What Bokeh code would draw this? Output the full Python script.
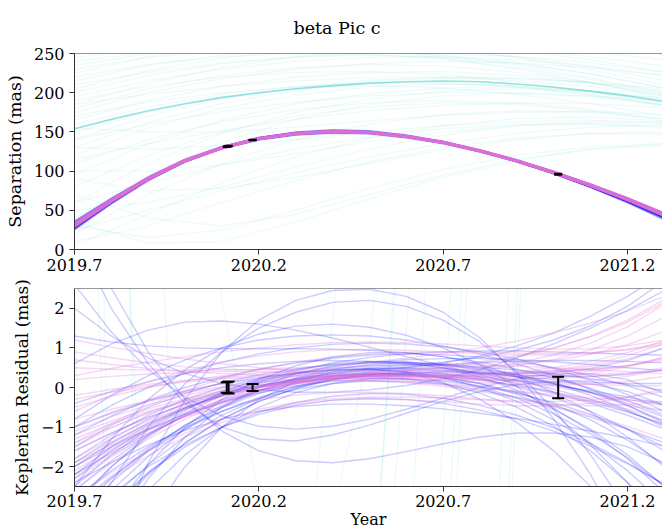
import numpy as np
from bokeh.plotting import figure
from bokeh.layouts import column
from bokeh.models import Range1d, FixedTicker, Span, Title
from bokeh.embed import file_html
from bokeh.resources import INLINE

# ---------------- data ----------------
YEARS = [2019.7, 2019.8, 2019.9, 2020.0, 2020.1, 2020.2, 2020.3, 2020.4, 2020.5,
         2020.6, 2020.7, 2020.8, 2020.9, 2021.0, 2021.1, 2021.2, 2021.3]
YEARS_CYAN = [2019.7, 2019.9, 2020.1, 2020.3, 2020.5, 2020.7, 2020.9, 2021.1, 2021.3]

# Keplerian reference separation (mas) on YEARS
REF_SEP = [32.0, 63.0, 91.0, 113.5, 129.8, 141.2, 147.6, 150.2, 149.0,
           143.8, 136.2, 125.5, 112.8, 98.0, 81.5, 63.5, 43.5]

# median of the wide (cyan) orbit family on YEARS
CYAN_MEDIAN = [154, 166, 177, 186, 194, 200, 205, 209, 212, 214, 215, 214, 211, 207, 202, 196, 189]

# wide (cyan) orbit family separations on YEARS_CYAN
CYAN_SEP = [
    [180, 205, 222, 232, 236, 234, 226, 213, 196],
    [200, 222, 237, 245, 248, 245, 237, 224, 206],
    [215, 235, 248, 255, 257, 254, 246, 233, 216],
    [165, 190, 208, 220, 226, 227, 222, 212, 198],
    [190, 208, 220, 226, 227, 223, 214, 201, 184],
    [230, 245, 253, 256, 254, 248, 238, 224, 206],
    [175, 200, 218, 230, 237, 240, 238, 232, 222],
    [205, 228, 244, 254, 259, 259, 255, 246, 234],
    [160, 182, 198, 208, 213, 213, 208, 198, 184],
    [220, 236, 246, 250, 249, 243, 232, 217, 198],
    [185, 212, 232, 246, 255, 259, 258, 252, 242],
    [240, 252, 258, 259, 255, 247, 235, 219, 200],
    [140, 170, 192, 207, 216, 219, 216, 208, 196],
    [120, 155, 180, 197, 207, 211, 209, 201, 188],
    [150, 175, 193, 205, 211, 212, 207, 197, 183],
    [110, 140, 163, 178, 187, 190, 187, 179, 166],
    [130, 162, 186, 203, 214, 219, 219, 213, 202],
    [95, 135, 165, 186, 199, 206, 207, 202, 192],
    [60, 110, 148, 175, 192, 202, 205, 202, 193],
    [40, 95, 137, 166, 185, 196, 199, 195, 184],
    [20, 70, 110, 140, 160, 172, 177, 175, 167],
    [80, 120, 150, 170, 182, 187, 185, 177, 164],
    [5, 45, 85, 118, 142, 158, 167, 169, 164],
    [50, 60, 80, 105, 128, 146, 158, 163, 161],
    [30, 15, 25, 50, 78, 102, 120, 131, 134],
    [70, 40, 30, 45, 70, 95, 115, 128, 132],
    [100, 100, 108, 122, 138, 150, 158, 160, 155],
    [10, 30, 60, 88, 112, 130, 142, 148, 147],
    [130, 128, 132, 140, 150, 158, 163, 165, 162],
    [60, 85, 108, 128, 143, 154, 160, 161, 157],
    [25, 50, 75, 98, 118, 135, 148, 156, 159],
    [35, 8, 10, 35, 65, 92, 113, 128, 136],
    [90, 75, 78, 92, 110, 127, 140, 148, 150],
    [155, 150, 150, 156, 164, 171, 175, 176, 172],
    [115, 135, 152, 166, 177, 184, 187, 186, 181],
    [170, 188, 200, 207, 209, 206, 198, 186, 170],
    [245, 258, 262, 260, 254, 244, 230, 213, 193],
    [195, 215, 230, 240, 245, 246, 242, 234, 222],
    [225, 246, 260, 268, 272, 272, 268, 260, 249],
    [140, 160, 176, 188, 196, 200, 200, 196, 188],
    [210, 226, 238, 246, 250, 250, 246, 238, 226],
    [235, 250, 260, 265, 266, 262, 254, 242, 226],
    [185, 198, 208, 215, 219, 220, 218, 213, 205],
    [250, 262, 268, 269, 265, 257, 245, 229, 210],
]

# residuals (mas) of the blue orbit family on YEARS
BLUE_RESID = [
    [-3.2, -2.3, -1.55, -0.95, -0.5, -0.15, 0.1, 0.28, 0.38, 0.4, 0.35, 0.22, 0.02, -0.25, -0.6, -1.05, -1.6],
    [-2.6, -1.85, -1.2, -0.7, -0.3, 0.0, 0.22, 0.38, 0.47, 0.5, 0.48, 0.4, 0.27, 0.1, -0.12, -0.4, -0.75],
    [-4.2, -3.1, -2.15, -1.4, -0.8, -0.35, -0.02, 0.2, 0.32, 0.34, 0.27, 0.1, -0.17, -0.55, -1.05, -1.7, -2.5],
    [-1.9, -1.3, -0.8, -0.4, -0.08, 0.17, 0.35, 0.48, 0.55, 0.58, 0.57, 0.52, 0.44, 0.34, 0.22, 0.08, -0.08],
    [-2.3, -1.6, -1.0, -0.52, -0.15, 0.13, 0.35, 0.52, 0.63, 0.7, 0.73, 0.73, 0.7, 0.65, 0.58, 0.5, 0.42],
    [-3.0, -2.25, -1.6, -1.05, -0.6, -0.25, 0.02, 0.2, 0.3, 0.32, 0.25, 0.1, -0.12, -0.42, -0.82, -1.33, -1.95],
    [-1.2, -0.72, -0.32, 0.0, 0.26, 0.46, 0.62, 0.74, 0.82, 0.85, 0.83, 0.77, 0.66, 0.5, 0.3, 0.05, -0.25],
    [-5.2, -3.8, -2.6, -1.7, -1.0, -0.5, -0.13, 0.1, 0.22, 0.22, 0.1, -0.14, -0.5, -0.98, -1.6, -2.4, -3.3],
    [4.6, 2.5, 0.9, -0.3, -1.1, -1.6, -1.85, -1.9, -1.8, -1.62, -1.42, -1.25, -1.15, -1.15, -1.25, -1.5, -1.9],
    [0.6, 1.1, 1.45, 1.65, 1.68, 1.6, 1.45, 1.25, 1.02, 0.78, 0.55, 0.32, 0.1, -0.12, -0.36, -0.62, -0.92],
    [-6.5, -4.0, -1.9, -0.3, 0.9, 1.7, 2.2, 2.45, 2.48, 2.3, 1.9, 1.25, 0.35, -0.8, -2.2, -3.9, -5.9],
    [-1.0, -0.65, -0.35, -0.1, 0.1, 0.25, 0.36, 0.44, 0.5, 0.56, 0.64, 0.76, 0.94, 1.2, 1.56, 2.05, 2.7],
    [-3.6, -2.6, -1.75, -1.05, -0.5, -0.08, 0.23, 0.45, 0.58, 0.63, 0.6, 0.5, 0.33, 0.1, -0.2, -0.57, -1.0],
    [-2.0, -1.5, -1.05, -0.68, -0.38, -0.14, 0.04, 0.16, 0.22, 0.22, 0.16, 0.04, -0.14, -0.38, -0.68, -1.05, -1.5],
    [2.6, 1.4, 0.45, -0.25, -0.72, -0.98, -1.05, -0.98, -0.8, -0.55, -0.27, 0.0, 0.22, 0.35, 0.35, 0.2, -0.15],
    [-4.8, -3.2, -1.95, -1.0, -0.3, 0.2, 0.55, 0.77, 0.88, 0.88, 0.78, 0.58, 0.28, -0.12, -0.62, -1.25, -2.0],
    [-2.8, -2.1, -1.5, -1.0, -0.6, -0.28, -0.05, 0.1, 0.17, 0.16, 0.08, -0.06, -0.25, -0.48, -0.75, -1.05, -1.4],
    [-1.5, -0.95, -0.5, -0.15, 0.12, 0.32, 0.47, 0.57, 0.62, 0.62, 0.57, 0.47, 0.32, 0.12, -0.13, -0.45, -0.85],
    [-7.0, -5.0, -3.3, -2.0, -1.0, -0.3, 0.15, 0.4, 0.47, 0.38, 0.12, -0.3, -0.88, -1.6, -2.5, -3.5, -4.7],
    [1.3, 1.15, 1.05, 1.0, 0.98, 0.98, 0.98, 0.97, 0.94, 0.88, 0.78, 0.64, 0.46, 0.24, -0.02, -0.33, -0.7],
    [-3.4, -2.4, -1.6, -0.95, -0.45, -0.08, 0.18, 0.35, 0.43, 0.45, 0.42, 0.36, 0.28, 0.2, 0.14, 0.1, 0.1],
    [-2.2, -1.65, -1.15, -0.72, -0.36, -0.08, 0.13, 0.27, 0.34, 0.35, 0.3, 0.2, 0.05, -0.15, -0.4, -0.7, -1.05],
    [-5.5, -3.7, -2.3, -1.25, -0.5, 0.0, 0.35, 0.55, 0.65, 0.65, 0.57, 0.44, 0.27, 0.08, -0.12, -0.3, -0.45],
    [3.8, 2.0, 0.6, -0.4, -1.0, -1.3, -1.35, -1.2, -0.95, -0.65, -0.35, -0.1, 0.08, 0.15, 0.1, -0.1, -0.45],
    [-2.5, -1.7, -1.05, -0.55, -0.18, 0.1, 0.3, 0.42, 0.48, 0.48, 0.44, 0.38, 0.32, 0.28, 0.28, 0.33, 0.45],
    [-3.8, -2.8, -1.95, -1.25, -0.7, -0.28, 0.03, 0.23, 0.33, 0.33, 0.23, 0.03, -0.27, -0.67, -1.17, -1.77, -2.5],
    [-0.4, -0.1, 0.15, 0.35, 0.5, 0.6, 0.66, 0.68, 0.66, 0.6, 0.5, 0.36, 0.18, -0.04, -0.3, -0.6, -0.95],
    [-4.4, -3.2, -2.2, -1.4, -0.8, -0.35, -0.02, 0.2, 0.33, 0.38, 0.38, 0.36, 0.35, 0.38, 0.48, 0.68, 1.0],
    [-1.6, -1.15, -0.75, -0.42, -0.15, 0.05, 0.2, 0.3, 0.35, 0.36, 0.33, 0.27, 0.18, 0.06, -0.08, -0.24, -0.42],
    [-2.9, -2.0, -1.25, -0.65, -0.2, 0.15, 0.42, 0.62, 0.76, 0.85, 0.9, 0.92, 0.92, 0.9, 0.87, 0.84, 0.82],
    [-1.8, -1.2, -0.7, -0.3, 0.0, 0.22, 0.37, 0.45, 0.46, 0.4, 0.25, 0.0, -0.35, -0.82, -1.4, -2.1, -2.95],
    [-3.0, -2.0, -1.2, -0.58, -0.12, 0.22, 0.45, 0.6, 0.66, 0.63, 0.5, 0.27, -0.07, -0.52, -1.1, -1.8, -2.65],
    [-2.0, -1.4, -0.9, -0.5, -0.2, 0.02, 0.18, 0.3, 0.4, 0.5, 0.62, 0.8, 1.05, 1.38, 1.8, 2.3, 2.9],
    [2.0, 1.3, 0.75, 0.35, 0.1, -0.05, -0.12, -0.12, -0.06, 0.05, 0.22, 0.45, 0.75, 1.1, 1.5, 1.95, 2.45],
    [-4.0, -2.4, -1.0, 0.1, 0.9, 1.5, 1.9, 2.15, 2.2, 2.05, 1.7, 1.15, 0.4, -0.55, -1.7, -3.1, -4.7],
    [-2.5, -1.3, -0.3, 0.45, 1.0, 1.35, 1.55, 1.6, 1.52, 1.32, 1.0, 0.57, 0.02, -0.65, -1.45, -2.4, -3.5],
    [-3.5, -2.7, -2.0, -1.45, -1.0, -0.68, -0.45, -0.32, -0.27, -0.3, -0.4, -0.57, -0.8, -1.1, -1.48, -1.93, -2.45],
    [-2.4, -1.9, -1.45, -1.08, -0.8, -0.6, -0.48, -0.42, -0.42, -0.46, -0.54, -0.65, -0.78, -0.93, -1.1, -1.28, -1.48],
    [-0.8, -0.2, 0.3, 0.7, 1.0, 1.2, 1.3, 1.33, 1.3, 1.2, 1.05, 0.85, 0.6, 0.3, -0.05, -0.45, -0.9],
    [-4.0, -3.0, -2.15, -1.5, -1.0, -0.63, -0.38, -0.22, -0.15, -0.17, -0.27, -0.45, -0.7, -1.02, -1.42, -1.9, -2.45],
    [-1.0, -0.45, 0.0, 0.36, 0.64, 0.85, 1.0, 1.09, 1.12, 1.1, 1.03, 0.9, 0.72, 0.48, 0.18, -0.18, -0.6],
    [-2.2, -1.5, -0.95, -0.52, -0.2, 0.04, 0.22, 0.35, 0.45, 0.52, 0.58, 0.63, 0.66, 0.68, 0.68, 0.66, 0.62],
]

# residuals (mas) of the orchid orbit family on YEARS
ORCHID_RESID = [
    [-1.0, -0.62, -0.32, -0.08, 0.1, 0.21, 0.27, 0.3, 0.31, 0.31, 0.31, 0.32, 0.34, 0.38, 0.45, 0.56, 0.72],
    [-2.0, -1.42, -0.93, -0.53, -0.22, 0.0, 0.14, 0.22, 0.26, 0.27, 0.27, 0.27, 0.29, 0.33, 0.41, 0.54, 0.75],
    [0.9, 0.75, 0.62, 0.52, 0.46, 0.44, 0.46, 0.5, 0.54, 0.57, 0.58, 0.57, 0.54, 0.5, 0.45, 0.4, 0.35],
    [-1.5, -1.02, -0.63, -0.32, -0.1, 0.05, 0.14, 0.18, 0.17, 0.12, 0.03, -0.1, -0.26, -0.46, -0.7, -0.98, -1.3],
    [-2.3, -1.72, -1.18, -0.72, -0.36, -0.1, 0.1, 0.25, 0.36, 0.45, 0.54, 0.65, 0.8, 1.0, 1.28, 1.65, 2.15],
    [-0.5, -0.22, 0.0, 0.17, 0.29, 0.37, 0.41, 0.43, 0.43, 0.42, 0.4, 0.39, 0.39, 0.41, 0.46, 0.55, 0.68],
    [-1.8, -1.28, -0.84, -0.48, -0.2, 0.0, 0.14, 0.23, 0.28, 0.3, 0.3, 0.3, 0.3, 0.31, 0.33, 0.37, 0.43],
    [1.2, 1.02, 0.86, 0.72, 0.6, 0.5, 0.42, 0.36, 0.32, 0.3, 0.3, 0.33, 0.39, 0.5, 0.66, 0.88, 1.18],
    [-1.2, -0.85, -0.54, -0.28, -0.08, 0.07, 0.17, 0.22, 0.23, 0.21, 0.17, 0.12, 0.08, 0.06, 0.08, 0.15, 0.28],
    [-2.6, -1.9, -1.3, -0.8, -0.4, -0.1, 0.12, 0.28, 0.38, 0.44, 0.48, 0.52, 0.58, 0.68, 0.84, 1.08, 1.42],
    [0.2, 0.28, 0.34, 0.38, 0.4, 0.4, 0.38, 0.34, 0.28, 0.2, 0.11, 0.01, -0.1, -0.22, -0.34, -0.46, -0.58],
    [-0.8, -0.55, -0.33, -0.14, 0.02, 0.14, 0.23, 0.3, 0.36, 0.42, 0.5, 0.61, 0.77, 0.99, 1.3, 1.7, 2.22],
    [-1.4, -1.0, -0.65, -0.36, -0.13, 0.04, 0.16, 0.24, 0.28, 0.29, 0.28, 0.26, 0.24, 0.24, 0.27, 0.35, 0.5],
    [-2.1, -1.55, -1.07, -0.66, -0.33, -0.08, 0.1, 0.22, 0.28, 0.29, 0.25, 0.17, 0.05, -0.11, -0.31, -0.55, -0.83],
    [0.5, 0.46, 0.44, 0.43, 0.44, 0.46, 0.5, 0.56, 0.64, 0.74, 0.86, 1.0, 1.17, 1.38, 1.63, 1.93, 2.3],
    [-1.6, -1.15, -0.76, -0.43, -0.17, 0.03, 0.17, 0.27, 0.32, 0.34, 0.34, 0.34, 0.36, 0.42, 0.53, 0.72, 1.0],
    [-0.2, -0.05, 0.08, 0.18, 0.26, 0.31, 0.34, 0.35, 0.34, 0.31, 0.27, 0.22, 0.17, 0.12, 0.08, 0.05, 0.04],
    [-2.4, -1.75, -1.19, -0.73, -0.37, -0.1, 0.08, 0.2, 0.26, 0.27, 0.24, 0.2, 0.16, 0.15, 0.18, 0.28, 0.46],
    [-1.1, -0.74, -0.44, -0.2, -0.02, 0.12, 0.21, 0.27, 0.3, 0.31, 0.31, 0.32, 0.36, 0.44, 0.58, 0.8, 1.12],
    [0.7, 0.58, 0.48, 0.4, 0.35, 0.32, 0.31, 0.31, 0.31, 0.3, 0.27, 0.22, 0.14, 0.02, -0.14, -0.35, -0.62],
    [-1.9, -1.36, -0.9, -0.52, -0.22, 0.0, 0.15, 0.25, 0.31, 0.35, 0.39, 0.45, 0.55, 0.71, 0.95, 1.3, 1.78],
    [-0.3, -0.12, 0.03, 0.14, 0.22, 0.27, 0.29, 0.29, 0.27, 0.24, 0.21, 0.19, 0.2, 0.25, 0.35, 0.52, 0.78],
    [-1.3, -0.92, -0.6, -0.34, -0.14, 0.01, 0.11, 0.16, 0.17, 0.14, 0.08, 0.0, -0.09, -0.18, -0.26, -0.32, -0.36],
    [-2.2, -1.6, -1.08, -0.65, -0.31, -0.06, 0.12, 0.24, 0.31, 0.36, 0.41, 0.49, 0.62, 0.82, 1.12, 1.53, 2.1],
    [-2.8, -2.15, -1.6, -1.15, -0.8, -0.55, -0.38, -0.28, -0.24, -0.24, -0.27, -0.31, -0.34, -0.35, -0.32, -0.24, -0.1],
    [-0.6, -0.2, 0.14, 0.42, 0.64, 0.8, 0.9, 0.95, 0.96, 0.94, 0.9, 0.85, 0.82, 0.82, 0.86, 0.96, 1.14],
    [-1.4, -0.9, -0.45, -0.08, 0.22, 0.46, 0.64, 0.77, 0.85, 0.89, 0.9, 0.89, 0.87, 0.86, 0.88, 0.95, 1.08],
    [-3.0, -2.3, -1.72, -1.25, -0.88, -0.6, -0.42, -0.32, -0.29, -0.31, -0.36, -0.42, -0.46, -0.46, -0.4, -0.26, -0.02],
    [0.3, 0.48, 0.64, 0.78, 0.9, 1.0, 1.08, 1.13, 1.15, 1.14, 1.1, 1.05, 1.0, 0.97, 0.98, 1.05, 1.2],
    [-1.9, -1.45, -1.06, -0.74, -0.49, -0.31, -0.19, -0.13, -0.12, -0.15, -0.21, -0.29, -0.37, -0.43, -0.46, -0.44, -0.35],
]

# observations
OBS_YEAR = [2020.113, 2020.118, 2020.183, 2021.012]
OBS_SEP = [131.3, 131.9, 139.6, 96.0]
OBS_SEP_ERR = [0.5, 0.5, 0.4, 0.6]
OBS_RESID = [0.0, 0.0, 0.0, 0.0]
OBS_RESID_ERR = [0.13, 0.15, 0.09, 0.27]

X_TICKS = [2019.7, 2020.2, 2020.7, 2021.2]
SEP_TICKS = [0, 50, 100, 150, 200, 250]
RESID_TICKS = [-2, -1, 0, 1, 2]

# ---------------- styling ----------------
FONT = "DejaVu Serif"
CYAN = "#48D1CC"
BLUE = "#0000FF"
ORCHID = "#DA70D6"
SPINE = "#333333"
X_START, X_END = 2019.7, 2021.295


def style(p, yticks, ylabel, label_over, label_size):
    p.outline_line_color = None
    p.xgrid.visible = False
    p.ygrid.visible = False
    for ax in (p.xaxis[0], p.yaxis[0]):
        ax.axis_line_color = SPINE
        ax.major_tick_line_color = SPINE
        ax.major_tick_in = 0
        ax.major_tick_out = 5
        ax.minor_tick_line_color = None
        ax.major_label_text_font = FONT
        ax.major_label_text_font_size = "16px"
        ax.major_label_text_color = "black"
        ax.axis_label_text_font = FONT
        ax.axis_label_text_font_size = label_size
        ax.axis_label_text_font_style = "normal"
        ax.axis_label_text_color = "black"
    p.xaxis.ticker = FixedTicker(ticks=X_TICKS)
    p.xaxis.major_label_overrides = {t: f"{t:.1f}" for t in X_TICKS}
    p.xaxis.major_label_standoff = 4
    p.yaxis.ticker = FixedTicker(ticks=yticks)
    p.yaxis.major_label_overrides = label_over
    p.yaxis.major_label_standoff = 5
    p.yaxis.axis_label = ylabel
    p.yaxis.axis_label_standoff = 6


years = np.array(YEARS)
ref = np.array(REF_SEP)
ref_c = ref[::2]  # reference at YEARS_CYAN

# ---------------- top panel ----------------
p1 = figure(width=662, height=278, output_backend="svg", toolbar_location=None,
            x_range=Range1d(X_START, X_END), y_range=Range1d(0, 250),
            min_border_left=74, min_border_right=0, min_border_top=52, min_border_bottom=29)
p1.add_layout(Title(text="beta Pic c", align="left", offset=219, standoff=31,
                    text_font=FONT, text_font_size="17.5px", text_font_style="normal",
                    text_color="black"), "above")
style(p1, SEP_TICKS, "Separation (mas)", {t: str(t) for t in SEP_TICKS}, "17.5px")
p1.add_layout(Span(location=250, dimension="width", line_color=SPINE, line_width=1))

p1.multi_line([YEARS_CYAN] * len(CYAN_SEP), CYAN_SEP, line_color=CYAN, line_alpha=0.09, line_width=1.3)
p1.line(YEARS, CYAN_MEDIAN, line_color=CYAN, line_alpha=0.6, line_width=1.6)
p1.multi_line([YEARS] * len(BLUE_RESID), [list(ref + np.array(r)) for r in BLUE_RESID],
              line_color=BLUE, line_alpha=0.25, line_width=1.5)
p1.multi_line([YEARS] * len(ORCHID_RESID), [list(ref + np.array(r)) for r in ORCHID_RESID],
              line_color=ORCHID, line_alpha=0.3, line_width=2.5)
sep_lo = [s - e for s, e in zip(OBS_SEP, OBS_SEP_ERR)]
sep_hi = [s + e for s, e in zip(OBS_SEP, OBS_SEP_ERR)]
p1.segment(OBS_YEAR, sep_lo, OBS_YEAR, sep_hi, line_color="black", line_width=2)
p1.scatter(OBS_YEAR + OBS_YEAR, sep_lo + sep_hi, marker="dash", size=8,
           line_color="black", line_width=2)

# ---------------- bottom panel ----------------
p2 = figure(width=662, height=253, output_backend="svg", toolbar_location=None,
            x_range=Range1d(X_START, X_END), y_range=Range1d(-2.5, 2.5),
            min_border_left=74, min_border_right=0, min_border_top=10, min_border_bottom=45)
style(p2, RESID_TICKS, "Keplerian Residual (mas)",
      {t: (str(t) if t >= 0 else "\u2212" + str(-t)) for t in RESID_TICKS}, "17px")
p2.xaxis.axis_label = "Year"
p2.xaxis.axis_label_standoff = 0
p2.xaxis.axis_label_text_font_size = "16px"
p2.xaxis.major_label_standoff = 3
p2.add_layout(Span(location=2.5, dimension="width", line_color=SPINE, line_width=1))

cyan_resid = [list(np.array(c) - ref_c) for c in CYAN_SEP]
p2.multi_line([YEARS_CYAN] * len(cyan_resid), cyan_resid, line_color=CYAN, line_alpha=0.1, line_width=1.3)
p2.multi_line([YEARS] * len(BLUE_RESID), BLUE_RESID, line_color=BLUE, line_alpha=0.2, line_width=1.4)
p2.multi_line([YEARS] * len(ORCHID_RESID), ORCHID_RESID, line_color=ORCHID, line_alpha=0.28, line_width=1.4)
r_lo = [r - e for r, e in zip(OBS_RESID, OBS_RESID_ERR)]
r_hi = [r + e for r, e in zip(OBS_RESID, OBS_RESID_ERR)]
p2.segment(OBS_YEAR, r_lo, OBS_YEAR, r_hi, line_color="black", line_width=2)
p2.scatter(OBS_YEAR + OBS_YEAR, r_lo + r_hi, marker="dash", size=12,
           line_color="black", line_width=2)

layout = column(p1, p2, spacing=0)
open("out.html", "w").write(file_html(layout, INLINE))
